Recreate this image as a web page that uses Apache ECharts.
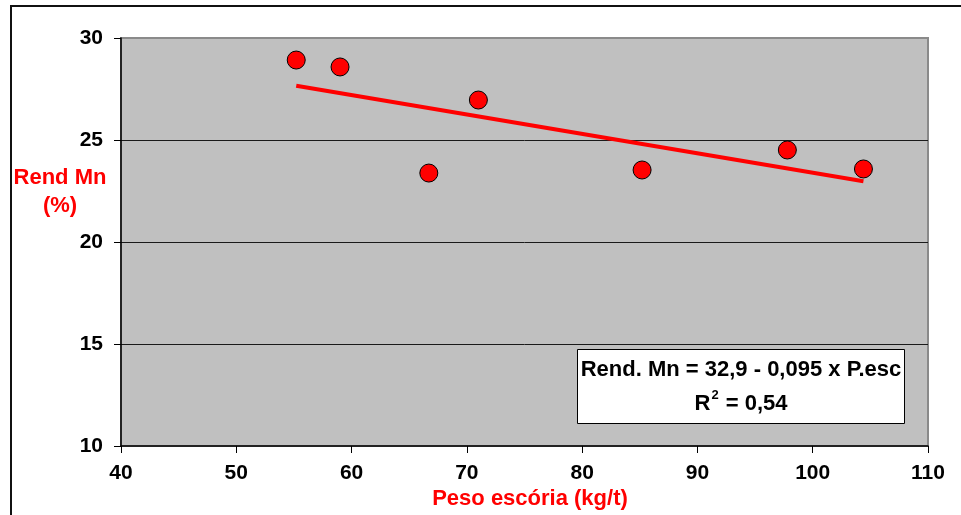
<!DOCTYPE html>
<html>
<head>
<meta charset="utf-8">
<script src="https://cdn.jsdelivr.net/npm/echarts@6/dist/echarts.min.js"></script>
<style>
  html, body { margin: 0; padding: 0; background: #fff; }
  #chart { width: 961px; height: 515px; }
</style>
</head>
<body>
<div id="chart"></div>
<script>
// Slag weight (kg/t) versus Mn yield (%)
const pesoEscoria = [55.2, 59.0, 66.7, 71.0, 85.2, 97.8, 104.4];
const rendMn = [28.92, 28.58, 23.38, 26.96, 23.53, 24.51, 23.58];

// Linear fit: Rend. Mn = 32,9 - 0,095 x P.esc
const trendIntercept = 32.9;
const trendSlope = -0.095;
const rSquared = '0,54';

const xMin = 40, xMax = 110, xStep = 10;
const yMin = 10, yMax = 30, yStep = 5;

const FONT = '"Liberation Sans", Arial, sans-serif';

const points = pesoEscoria.map((x, i) => [x, rendMn[i]]);
const xFirst = Math.min(...pesoEscoria);
const xLast = Math.max(...pesoEscoria);
const trendLine = [
  [xFirst, trendIntercept + trendSlope * xFirst],
  [xLast, trendIntercept + trendSlope * xLast]
];

const chart = echarts.init(document.getElementById('chart'), null, { renderer: 'canvas' });

chart.setOption({
  animation: false,
  backgroundColor: '#ffffff',
  grid: {
    left: 121, top: 38, right: 33, bottom: 69,
    show: true,
    backgroundColor: '#c0c0c0',
    borderColor: '#8a8a8a',
    borderWidth: 2
  },
  xAxis: {
    type: 'value',
    min: xMin, max: xMax, interval: xStep,
    axisLine: { show: true, onZero: false, lineStyle: { color: '#000', width: 1.5 } },
    axisTick: { show: true, inside: false, length: 7, lineStyle: { color: '#000', width: 1 } },
    axisLabel: { color: '#000', fontFamily: FONT, fontWeight: 'bold', fontSize: 21, margin: 17 },
    splitLine: { show: false }
  },
  yAxis: {
    type: 'value',
    min: yMin, max: yMax, interval: yStep,
    axisLine: { show: true, onZero: false, lineStyle: { color: '#000', width: 1.5 } },
    axisTick: { show: true, inside: false, length: 7, lineStyle: { color: '#000', width: 1 } },
    axisLabel: { color: '#000', fontFamily: FONT, fontWeight: 'bold', fontSize: 21, margin: 18 },
    splitLine: {
      show: true,
      lineStyle: { color: ['transparent', '#1a1a1a', '#1a1a1a', '#1a1a1a', 'transparent'], width: 1 }
    }
  },
  series: [
    {
      type: 'line',
      data: trendLine,
      symbol: 'none',
      lineStyle: { color: '#ff0000', width: 4 },
      z: 2
    },
    {
      type: 'scatter',
      data: points,
      symbol: 'circle',
      symbolSize: 18,
      itemStyle: { color: '#ff0000', borderColor: '#000', borderWidth: 1, opacity: 1 },
      z: 3
    }
  ],
  graphic: [
    {
      type: 'rect',
      shape: { x: 11, y: 6, width: 1000, height: 1000 },
      style: { fill: 'none', stroke: '#111', lineWidth: 2 },
      silent: true
    },
    {
      type: 'text',
      x: 60, y: 192,
      style: {
        text: 'Rend Mn\n(%)',
        fill: '#ff0000',
        font: 'bold 22px ' + FONT,
        align: 'center',
        verticalAlign: 'middle',
        lineHeight: 28
      }
    },
    {
      type: 'text',
      x: 530, y: 499,
      style: {
        text: 'Peso escória (kg/t)',
        fill: '#ff0000',
        font: 'bold 22px ' + FONT,
        align: 'center',
        verticalAlign: 'middle'
      }
    },
    {
      type: 'rect',
      shape: { x: 577.5, y: 349.5, width: 327, height: 74 },
      style: { fill: '#ffffff', stroke: '#000', lineWidth: 1 },
      z: 10
    },
    {
      type: 'text',
      x: 741, y: 370,
      z: 11,
      style: {
        text: 'Rend. Mn = ' + String(trendIntercept).replace('.', ',') + ' - ' +
              String(-trendSlope).replace('.', ',') + ' x P.esc',
        fill: '#000',
        font: 'bold 22px ' + FONT,
        align: 'center',
        verticalAlign: 'middle'
      }
    },
    {
      type: 'text',
      x: 741, y: 402,
      z: 11,
      style: {
        text: '{a|R}{s|2}{a| = ' + rSquared + '}',
        align: 'center',
        verticalAlign: 'middle',
        rich: {
          a: { fill: '#000', font: 'bold 22px ' + FONT, lineHeight: 26, verticalAlign: 'bottom' },
          s: { fill: '#000', font: 'bold 13px ' + FONT, lineHeight: 26, verticalAlign: 'top', padding: [0, 1, 0, 1] }
        }
      }
    }
  ]
});
</script>
</body>
</html>
